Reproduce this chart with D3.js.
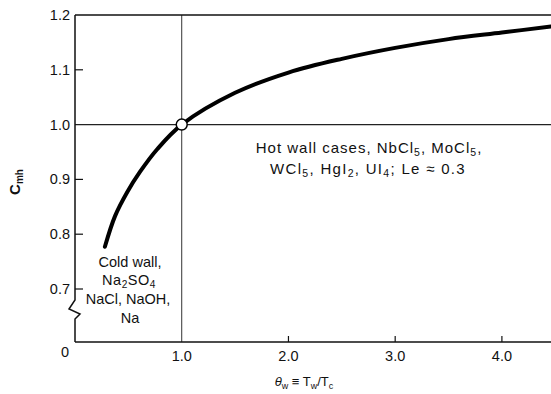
<!DOCTYPE html>
<html lang="en">
<head>
<meta charset="UTF-8">
<title>Cmh vs theta_w</title>
<script src="https://d3js.org/d3.v7.min.js"></script>
<style>
  body { margin: 0; background: #fff; }
  svg text { font-family: "Liberation Sans", Arial, sans-serif; fill: #111; }
</style>
</head>
<body>
<div id="chart"></div>
<script>
// curve: theta_w -> C_mh
const thetaW = [0.28, 0.375, 0.49, 0.61, 0.77, 1.0, 1.5, 2.0, 2.5, 3.0, 3.5, 4.0, 4.46];
const cmh    = [0.777, 0.833, 0.877, 0.914, 0.955, 1.0, 1.058, 1.095, 1.12, 1.14, 1.156, 1.168, 1.179];
const xTicks = [1.0, 2.0, 3.0, 4.0];
const yTicks = [0.7, 0.8, 0.9, 1.0, 1.1, 1.2];
const refPoint = [1.0, 1.0];

const width = 551, height = 394;
const plotLeft = 75, plotTop = 15, plotBottom = 342;

const svg = d3.select("#chart").append("svg")
    .attr("width", width).attr("height", height);

const x = d3.scaleLinear().domain([0, 4.46]).range([plotLeft, width]);
const y = d3.scaleLinear().domain([0.7, 1.2]).range([289, plotTop]);

// grid lines through the reference point
svg.append("line")
    .attr("x1", x(refPoint[0])).attr("x2", x(refPoint[0]))
    .attr("y1", plotTop).attr("y2", plotBottom)
    .attr("stroke", "#333").attr("stroke-width", 1);
svg.append("line")
    .attr("x1", plotLeft).attr("x2", width)
    .attr("y1", y(refPoint[1])).attr("y2", y(refPoint[1]))
    .attr("stroke", "#222").attr("stroke-width", 1.2);

// frame: top, bottom, left with axis break
svg.append("line").attr("x1", plotLeft).attr("x2", width).attr("y1", plotTop).attr("y2", plotTop)
    .attr("stroke", "#111").attr("stroke-width", 1.5);
svg.append("line").attr("x1", plotLeft).attr("x2", width).attr("y1", plotBottom).attr("y2", plotBottom)
    .attr("stroke", "#111").attr("stroke-width", 1.5);
svg.append("path")
    .attr("d", `M${plotLeft},${plotTop} V300 L69,309 L80,314 L75,319 V${plotBottom}`)
    .attr("fill", "none").attr("stroke", "#111").attr("stroke-width", 1.5);

// y ticks (inward) and labels
svg.selectAll(".ytick").data(yTicks.filter(d => d !== 1.0 && d !== 1.2)).enter()
    .append("line")
    .attr("x1", plotLeft).attr("x2", plotLeft + 8)
    .attr("y1", d => y(d)).attr("y2", d => y(d))
    .attr("stroke", "#111").attr("stroke-width", 1.2);
svg.selectAll(".ylab").data(yTicks).enter()
    .append("text")
    .attr("x", 70).attr("y", d => y(d) + 5)
    .attr("text-anchor", "end").attr("font-size", 14.5)
    .text(d => d.toFixed(1));
// shared origin label
svg.append("text").attr("x", 65).attr("y", 357)
    .attr("text-anchor", "middle").attr("font-size", 14.5).text("0");

// x ticks (inward) and labels
svg.selectAll(".xtick").data(xTicks.filter(d => d !== 1.0)).enter()
    .append("line")
    .attr("x1", d => x(d)).attr("x2", d => x(d))
    .attr("y1", plotBottom).attr("y2", plotBottom - 6)
    .attr("stroke", "#111").attr("stroke-width", 1.2);
svg.selectAll(".xlab").data(xTicks).enter()
    .append("text")
    .attr("x", d => x(d)).attr("y", 361)
    .attr("text-anchor", "middle").attr("font-size", 14.5)
    .text(d => d.toFixed(1));

// curve
const pts = thetaW.map((t, i) => [t, cmh[i]]);
svg.append("path")
    .datum(pts)
    .attr("d", d3.line().x(d => x(d[0])).y(d => y(d[1])).curve(d3.curveCatmullRom))
    .attr("fill", "none").attr("stroke", "#000").attr("stroke-width", 4)
    .attr("stroke-linecap", "round");

svg.append("circle")
    .attr("cx", x(refPoint[0])).attr("cy", y(refPoint[1])).attr("r", 5.5)
    .attr("fill", "#fff").attr("stroke", "#000").attr("stroke-width", 1.5);

// text with subscripts: parts = [[text, isSub], ...]
function richText(g, px, py, parts, size, spacing) {
  const t = g.append("text").attr("x", px).attr("y", py)
      .attr("font-size", size).attr("text-anchor", "middle")
      .attr("letter-spacing", spacing || 0);
  parts.forEach(p => {
    const s = t.append("tspan").text(p[0]);
    if (p[1]) s.attr("font-size", size * 0.7).attr("baseline-shift", "-30%");
  });
  return t;
}

richText(svg, 369, 153, [["Hot wall cases, NbCl"], ["5", 1], [", MoCl"], ["5", 1], [","]], 15, 1);
richText(svg, 368, 174, [["WCl"], ["5", 1], [", HgI"], ["2", 1], [", UI"], ["4", 1], ["; Le  \u2248 0.3"]], 15, 1.3);

richText(svg, 130, 267, [["Cold wall,"]], 14.5);
richText(svg, 129, 285, [["Na"], ["2", 1], ["SO"], ["4", 1]], 14.5, 0.5);
richText(svg, 128, 304, [["NaCl, NaOH,"]], 14.5);
richText(svg, 130, 323, [["Na"]], 14.5);

// axis titles
const yt = svg.append("text")
    .attr("transform", "translate(20,182) rotate(-90)")
    .attr("text-anchor", "middle").attr("font-size", 15).attr("font-weight", "bold");
yt.append("tspan").text("C");
yt.append("tspan").text("mh").attr("font-size", 10).attr("baseline-shift", "-30%");

const xt = svg.append("text").attr("x", 304).attr("y", 386)
    .attr("text-anchor", "middle").attr("font-size", 13);
xt.append("tspan").text("\u03b8").attr("font-style", "italic");
xt.append("tspan").text("w").attr("font-size", 9).attr("baseline-shift", "-30%");
xt.append("tspan").text(" \u2261 T");
xt.append("tspan").text("w").attr("font-size", 9).attr("baseline-shift", "-30%");
xt.append("tspan").text("/T");
xt.append("tspan").text("c").attr("font-size", 9).attr("baseline-shift", "-30%");
</script>
</body>
</html>
